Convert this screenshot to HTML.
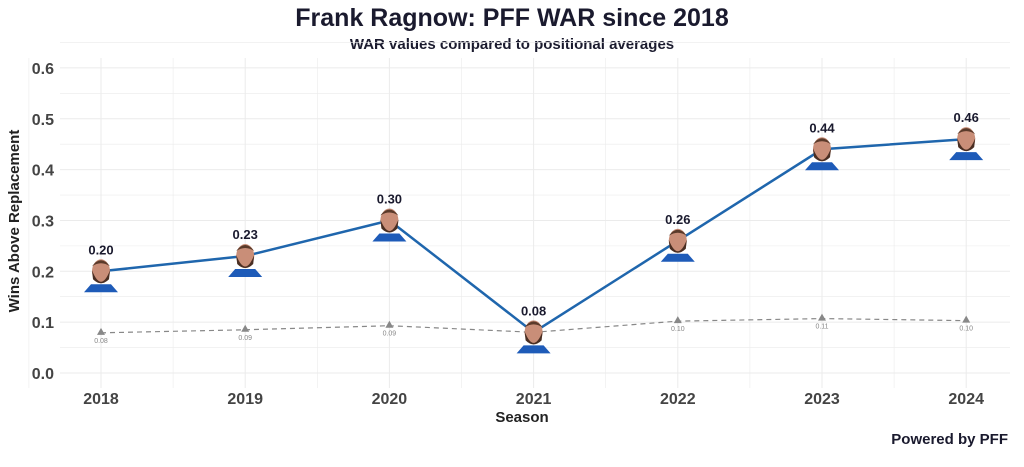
<!DOCTYPE html>
<html><head><meta charset="utf-8"><style>
body{margin:0;background:#fff;width:1024px;height:462px;overflow:hidden;font-family:"Liberation Sans",sans-serif}
svg text{font-family:"Liberation Sans",sans-serif}
</style></head><body>
<svg id="chart" width="1024" height="462">
<text x="512" y="26" text-anchor="middle" font-size="25" font-weight="bold" fill="#1a1a2e">Frank Ragnow: PFF WAR since 2018</text>
<text x="512" y="49" text-anchor="middle" font-size="15" font-weight="bold" fill="#1a1a2e">WAR values compared to positional averages</text>
<g id="grid"></g><g id="axes"></g><g id="series"></g>
<text x="522" y="422" text-anchor="middle" font-size="15" font-weight="bold" fill="#222">Season</text>
<text transform="translate(19,221) rotate(-90)" text-anchor="middle" font-size="15" font-weight="bold" fill="#222">Wins Above Replacement</text>
<text x="1008" y="444" text-anchor="end" font-size="15" font-weight="bold" fill="#1a1a2e">Powered by PFF</text>
</svg>
<script>
const seasons=[2018,2019,2020,2021,2022,2023,2024];
const warValues=[0.20,0.23,0.30,0.08,0.26,0.44,0.46];
const avgValues=[0.079,0.085,0.093,0.08,0.102,0.107,0.103];
const avgLabels=["0.08","0.09","0.09","0.08","0.10","0.11","0.10"];
const yTicks=[0,0.1,0.2,0.3,0.4,0.5,0.6];
const NS="http://www.w3.org/2000/svg";
const x=i=>101+i*144.2;
const y=v=>373-v*508.5;
function mk(p,t,a){const e=document.createElementNS(NS,t);for(const k in a)e.setAttribute(k,a[k]);p.appendChild(e);return e;}
const grid=document.getElementById('grid'),axes=document.getElementById('axes'),ser=document.getElementById('series');
for(let v=0;v<=0.65;v+=0.05){const l=mk(grid,'line',{x1:60,x2:1010,y1:y(v),y2:y(v),stroke:'#ebebeb','stroke-width':Math.round(v*100)%10===0?1:0.6});

}
for(let i=-0.5;i<=6.5;i+=0.5){const l=mk(grid,'line',{x1:x(i),x2:x(i),y1:58,y2:388,stroke:'#ebebeb','stroke-width':Number.isInteger(i)?1:0.6});

}
yTicks.forEach(v=>{const t=mk(axes,'text',{x:54,y:y(v)+6,'text-anchor':'end','font-size':16,'font-weight':'bold',fill:'#444'});t.textContent=v.toFixed(1);

});
seasons.forEach((s,i)=>{const t=mk(axes,'text',{x:x(i),y:404,'text-anchor':'middle','font-size':16,'font-weight':'bold',fill:'#444'});t.textContent=s;

});
const avg=mk(ser,'polyline',{points:avgValues.map((v,i)=>x(i)+','+y(v)).join(' '),fill:'none',stroke:'#888','stroke-width':1.2,'stroke-dasharray':'5,4'});


avgValues.forEach((v,i)=>{const p=mk(ser,'polygon',{points:`${x(i)},${y(v)-5} ${x(i)-4},${y(v)+2} ${x(i)+4},${y(v)+2}`,fill:'#888'});


const t=mk(ser,'text',{x:x(i),y:y(v)+10,'text-anchor':'middle','font-size':7,fill:'#888'});t.textContent=avgLabels[i];

});
const ln=mk(ser,'polyline',{points:warValues.map((v,i)=>x(i)+','+y(v)).join(' '),fill:'none',stroke:'#1f66ad','stroke-width':2.5});


warValues.forEach((v,i)=>{const cx=x(i),cy=y(v);const g=mk(ser,'g',{});


mk(g,'path',{d:`M${cx-17},${cy+21} L${cx-10},${cy+13} L${cx+10},${cy+13} L${cx+17},${cy+21} Z`,fill:'#1e5bb8'});
mk(g,'ellipse',{cx:cx,cy:cy,rx:9,ry:12,fill:'#c98e78'});
mk(g,'path',{d:`M${cx-9},${cy-1} Q${cx},${cy+22} ${cx+9},${cy-1} L${cx+8},${cy+8} Q${cx},${cy+16} ${cx-8},${cy+8} Z`,fill:'#4a2e22'});
mk(g,'path',{d:`M${cx-9},${cy-5} Q${cx},${cy-17} ${cx+9},${cy-5} Q${cx},${cy-11} ${cx-9},${cy-5} Z`,fill:'#5a3a2a'});
const t=mk(ser,'text',{x:cx,y:cy-17,'text-anchor':'middle','font-size':13,'font-weight':'bold',fill:'#1a1a2e'});t.textContent=v.toFixed(2);

});
</script>
</body></html>
